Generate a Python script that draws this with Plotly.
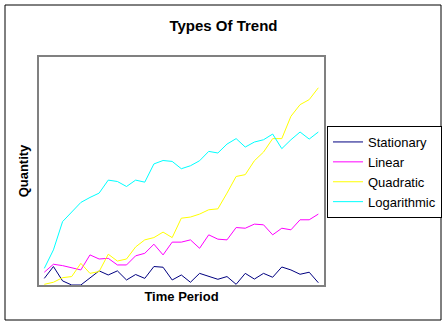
import plotly.graph_objects as go

periods = list(range(1, 32))
stationary = [2.9, 8.1, 1.8, 0.0, 0.0, 2.9, 6.2, 4.4, 6.2, 2.2, 4.6, 2.9, 8.1, 7.8, 2.2, 4.4,
              1.2, 5.1, 3.7, 2.5, 3.7, 0.3, 5.1, 2.6, 5.1, 3.4, 7.9, 6.6, 4.7, 5.6, 1.0]
linear = [5.6, 9.1, 8.5, 7.6, 6.6, 13.2, 11.4, 11.7, 8.8, 8.8, 12.8, 13.9, 17.9, 13.2, 18.8, 18.8,
          19.8, 16.1, 22.0, 20.1, 19.8, 25.2, 24.9, 26.7, 26.4, 22.0, 24.9, 24.2, 28.6, 28.6, 31.1]
quadratic = [0.3, 1.2, 3.2, 3.7, 9.5, 5.1, 5.9, 13.5, 10.5, 11.4, 16.7, 19.8, 20.8, 23.2, 20.8, 29.3,
             29.8, 31.1, 33.0, 33.4, 40.3, 47.6, 48.4, 54.5, 58.3, 64.2, 64.2, 74.0, 79.1, 81.3, 86.5]
logarithmic = [7.3, 15.4, 27.8, 32.2, 36.2, 38.4, 40.3, 46.0, 45.4, 43.2, 46.0, 45.1, 53.1, 54.6, 54.2, 51.0,
               52.3, 54.5, 58.6, 57.9, 61.8, 64.2, 60.5, 62.7, 63.7, 66.2, 59.8, 63.7, 67.1, 64.0, 67.1]

series_names = ["Stationary", "Linear", "Quadratic", "Logarithmic"]
series_values = [stationary, linear, quadratic, logarithmic]
series_colors = ["#000080", "#FF00FF", "#FFFF00", "#00FFFF"]

fig = go.Figure()
for name, vals, col in zip(series_names, series_values, series_colors):
    fig.add_trace(go.Scatter(x=periods, y=vals, mode="lines", name=name,
                             line=dict(color=col, width=1)))

W, H = 447, 324
L, R, T, B = 39, 123, 57, 39
pw, ph = W - L - R, H - T - B

def px_x(p):
    return (p - L) / pw

def px_y(p):
    return (H - B - p) / ph

fig.update_layout(
    width=W, height=H,
    margin=dict(l=L, r=R, t=T, b=B, pad=0, autoexpand=False),
    paper_bgcolor="white", plot_bgcolor="white",
    font=dict(family="Liberation Sans, Arial, sans-serif", color="black"),
    title=dict(text="<b>Types Of Trend</b>", x=0.5, xref="container", xanchor="center",
               y=1 - 26 / H, yanchor="middle", font=dict(size=15)),
    xaxis=dict(range=[0.42, 31.62], showgrid=False, zeroline=False, showticklabels=False,
               ticks="", showline=True, mirror=True, linecolor="#808080", linewidth=1.5,
               title=dict(text="<b>Time Period</b>", font=dict(size=13), standoff=6)),
    yaxis=dict(range=[0, 100], showgrid=False, zeroline=False, showticklabels=False,
               ticks="", showline=True, mirror=True, linecolor="#808080", linewidth=1.5,
               title=dict(text="<b>Quantity</b>", font=dict(size=13), standoff=6)),
    legend=dict(x=px_x(327), y=px_y(126), xanchor="left", yanchor="top",
                bordercolor="black", borderwidth=1, bgcolor="white",
                font=dict(size=13), tracegroupgap=0),
    showlegend=True,
)

fig.add_shape(type="rect", xref="paper", yref="paper",
              x0=px_x(5), x1=px_x(441), y0=px_y(320), y1=px_y(5),
              line=dict(color="black", width=1), fillcolor="rgba(0,0,0,0)", layer="below")

fig.write_html("out.html")
